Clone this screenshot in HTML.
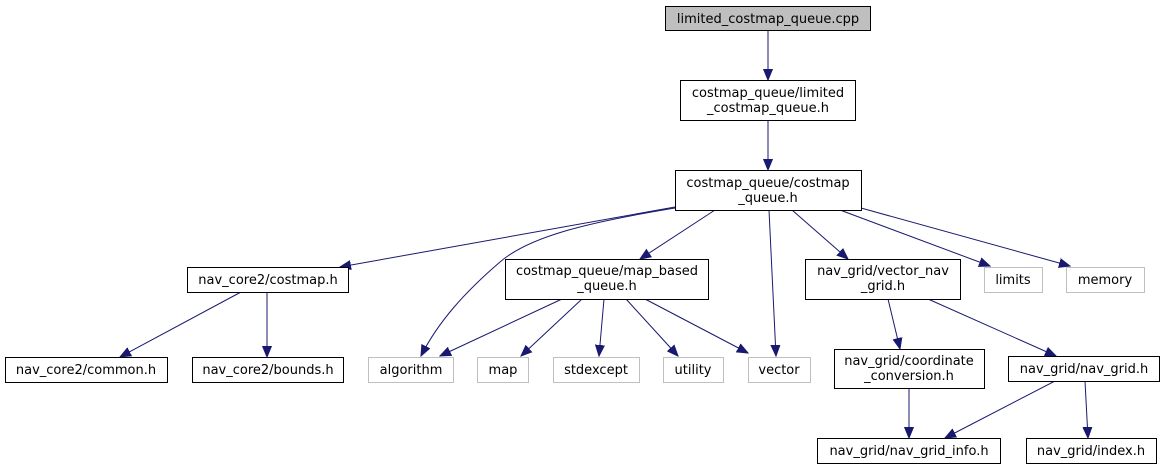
<!DOCTYPE html>
<html><head><meta charset="utf-8"><style>
html,body{margin:0;padding:0;background:#fff;}
svg{display:block;}
text{font-family:"DejaVu Sans","Liberation Sans",sans-serif;font-size:13px;fill:#000;text-anchor:middle;}
.b{fill:#fff;stroke:#000;stroke-width:1;}
.g{fill:#fff;stroke:#bfbfbf;stroke-width:1;}
.e{fill:none;stroke:#191970;stroke-width:1;}
</style></head><body>
<svg width="1165" height="469" viewBox="0 0 1165 469" xmlns="http://www.w3.org/2000/svg">
<defs><marker id="a" markerUnits="userSpaceOnUse" markerWidth="12" markerHeight="10" refX="11" refY="5" orient="auto"><path d="M0,0.5 L11,5 L0,9.5 z" fill="#191970" stroke="#191970"/></marker></defs>
<g marker-end="url(#a)">
<path class="e" d="M768,31 L768,80"/>
<path class="e" d="M768,120 L768,170"/>
<path class="e" d="M675,207 L340,267"/>
<path class="e" d="M675,208 C590,222 530,236 500,262 C465,292 438,322 421,356"/>
<path class="e" d="M715,210 L640,259"/>
<path class="e" d="M769,210 L776,356"/>
<path class="e" d="M792,210 L848,259"/>
<path class="e" d="M840,210 L990,266"/>
<path class="e" d="M861,208 L1070,266"/>
<path class="e" d="M241,292 L120,357"/>
<path class="e" d="M267,292 L267,357"/>
<path class="e" d="M562,299 L440,356"/>
<path class="e" d="M582,299 L521,356"/>
<path class="e" d="M604,299 L599,356"/>
<path class="e" d="M626,299 L678,356"/>
<path class="e" d="M645,299 L748,353"/>
<path class="e" d="M888,299 L900,349"/>
<path class="e" d="M928,299 L1056,356"/>
<path class="e" d="M909,388 L909,438"/>
<path class="e" d="M1055,381 L945,438"/>
<path class="e" d="M1085,381 L1088,438"/>
</g>
<rect x="665.5" y="6.5" width="205" height="24" fill="#bfbfbf" stroke="#000"/>
<text x="768" y="23">limited_costmap_queue.cpp</text>
<rect class="b" x="680.5" y="80.5" width="175" height="40"/>
<text x="768" y="97">costmap_queue/limited</text><text x="768" y="112">_costmap_queue.h</text>
<rect class="b" x="675.5" y="170.5" width="186" height="40"/>
<text x="768" y="187">costmap_queue/costmap</text><text x="768" y="202">_queue.h</text>
<rect class="b" x="187.5" y="267.5" width="161" height="25"/>
<text x="268" y="284">nav_core2/costmap.h</text>
<rect class="b" x="505.5" y="259.5" width="203" height="40"/>
<text x="607" y="275">costmap_queue/map_based</text><text x="607" y="290">_queue.h</text>
<rect class="b" x="805.5" y="259.5" width="155" height="40"/>
<text x="883" y="275">nav_grid/vector_nav</text><text x="883" y="290">_grid.h</text>
<rect class="g" x="984.5" y="267.5" width="58" height="25"/>
<text x="1013" y="284">limits</text>
<rect class="g" x="1066.5" y="267.5" width="78" height="25"/>
<text x="1105" y="284">memory</text>
<rect class="b" x="5.5" y="357.5" width="162" height="25"/>
<text x="86" y="374">nav_core2/common.h</text>
<rect class="b" x="192.5" y="357.5" width="151" height="25"/>
<text x="268" y="374">nav_core2/bounds.h</text>
<rect class="g" x="368.5" y="357.5" width="85" height="25"/>
<text x="411" y="374">algorithm</text>
<rect class="g" x="477.5" y="357.5" width="51" height="25"/>
<text x="503" y="374">map</text>
<rect class="g" x="553.5" y="357.5" width="86" height="25"/>
<text x="596" y="374">stdexcept</text>
<rect class="g" x="663.5" y="357.5" width="60" height="25"/>
<text x="693" y="374">utility</text>
<rect class="g" x="748.5" y="357.5" width="62" height="25"/>
<text x="779" y="374">vector</text>
<rect class="b" x="834.5" y="349.5" width="150" height="39"/>
<text x="909" y="365">nav_grid/coordinate</text><text x="909" y="380">_conversion.h</text>
<rect class="b" x="1008.5" y="356.5" width="151" height="25"/>
<text x="1084" y="373">nav_grid/nav_grid.h</text>
<rect class="b" x="817.5" y="438.5" width="183" height="25"/>
<text x="909" y="455">nav_grid/nav_grid_info.h</text>
<rect class="b" x="1026.5" y="438.5" width="130" height="25"/>
<text x="1091" y="455">nav_grid/index.h</text>
</svg>
</body></html>
